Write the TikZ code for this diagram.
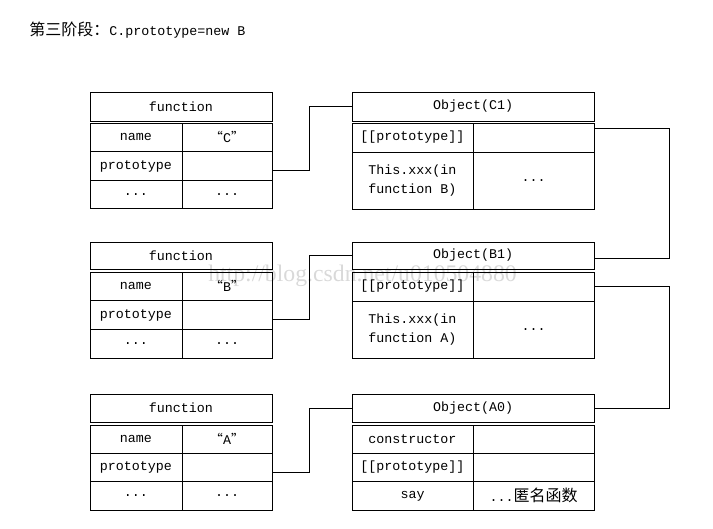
\documentclass[tikz,border=0pt]{standalone}
\usepackage{fontspec}
\setmonofont{Liberation Mono}
\newfontfamily\cjk{Noto Sans CJK SC}
\newfontfamily\wmfont{Liberation Serif}
\newcommand\qq[1]{\makebox[7.5pt][r]{\cjk “}#1\makebox[7.5pt][l]{\cjk ”}}
\begin{document}
\begin{tikzpicture}[x=0.75pt,y=-0.75pt,
  box/.style={draw, line width=0.75pt, inner sep=0pt, outer sep=0pt, anchor=north west,
    font=\fontsize{10}{14.25}\ttfamily, align=center},
  fhead/.style={box, minimum width=136.5pt},
  fl/.style={box, minimum width=69pt},
  fr/.style={box, minimum width=67.5pt},
  ohead/.style={box, minimum width=181.5pt},
  ocell/.style={box, minimum width=90.75pt},
  conn/.style={draw, line width=0.75pt}
]
\useasboundingbox (0,0) rectangle (713,528);

% title
\node[anchor=west, inner sep=0pt] (title) at (29,30)
  {{\fontsize{12}{14}\cjk 第三阶段：}{\fontsize{10}{12}\ttfamily C.prototype=new B}};

% watermark
\node[anchor=base west, inner sep=0pt, text=black!15, font=\fontsize{17.8}{20}\wmfont] (wm) at (208,281)
  {http://blog.csdn.net/u010504880};

% ---------- group C ----------
\node[fhead, minimum height=21.75pt] (fC) at (90,92) {function};
\node[fl, minimum height=21.5pt] (nameC) at (90,123) {name};
\node[fr, minimum height=21.5pt] (nameCv) at (182,123) {\qq{C}};
\node[fl, minimum height=21.5pt] (protoC) at (90,151.67) {prototype};
\node[fr, minimum height=21.5pt] (protoCv) at (182,151.67) {};
\node[fl, minimum height=21.5pt] (dotsC) at (90,180.33) {...};
\node[fr, minimum height=21.5pt] (dotsCv) at (182,180.33) {...};

\node[ohead, minimum height=21.75pt] (objC) at (352,92) {Object(C1)};
\node[ocell, minimum height=21.75pt] (c1p) at (352,123) {[[prototype]]};
\node[ocell, minimum height=21.75pt] (c1pv) at (473,123) {};
\node[ocell, minimum height=42.75pt, align=left] (c1t) at (352,152) {This.xxx(in\\function B)};
\node[ocell, minimum height=42.75pt] (c1tv) at (473,152) {...};

% ---------- group B ----------
\node[fhead, minimum height=20.25pt] (fB) at (90,242) {function};
\node[fl, minimum height=21.5pt] (nameB) at (90,272) {name};
\node[fr, minimum height=21.5pt] (nameBv) at (182,272) {\qq{B}};
\node[fl, minimum height=21.5pt] (protoB) at (90,300.67) {prototype};
\node[fr, minimum height=21.5pt] (protoBv) at (182,300.67) {};
\node[fl, minimum height=21.5pt] (dotsB) at (90,329.33) {...};
\node[fr, minimum height=21.5pt] (dotsBv) at (182,329.33) {...};

\node[ohead, minimum height=20.25pt] (objB) at (352,242) {Object(B1)};
\node[ocell, minimum height=21.75pt] (b1p) at (352,272) {[[prototype]]};
\node[ocell, minimum height=21.75pt] (b1pv) at (473,272) {};
\node[ocell, minimum height=42.75pt, align=left] (b1t) at (352,301) {This.xxx(in\\function A)};
\node[ocell, minimum height=42.75pt] (b1tv) at (473,301) {...};

% ---------- group A ----------
\node[fhead, minimum height=21pt] (fA) at (90,394) {function};
\node[fl, minimum height=21.25pt] (nameA) at (90,425) {name};
\node[fr, minimum height=21.25pt] (nameAv) at (182,425) {\qq{A}};
\node[fl, minimum height=21.25pt] (protoA) at (90,453.33) {prototype};
\node[fr, minimum height=21.25pt] (protoAv) at (182,453.33) {};
\node[fl, minimum height=21.25pt] (dotsA) at (90,481.67) {...};
\node[fr, minimum height=21.25pt] (dotsAv) at (182,481.67) {...};

\node[ohead, minimum height=21pt] (objA) at (352,394) {Object(A0)};
\node[ocell, minimum height=21.25pt] (a0c) at (352,425) {constructor};
\node[ocell, minimum height=21.25pt] (a0cv) at (473,425) {};
\node[ocell, minimum height=21.25pt] (a0p) at (352,453.33) {[[prototype]]};
\node[ocell, minimum height=21.25pt] (a0pv) at (473,453.33) {};
\node[ocell, minimum height=21.25pt] (a0s) at (352,481.67) {say};
\node[ocell, minimum height=21.25pt] (a0sv) at (473,481.67) {...{\fontsize{12}{14}\cjk 匿名函数}};

% ---------- connectors ----------
\draw[conn] ([yshift=-3.4pt]protoCv.east) -- ++(37,0) |- (objC.west);
\draw[conn] ([yshift=-3.4pt]protoBv.east) -- ++(37,0) |- (objB.west);
\draw[conn] ([yshift=-3.4pt]protoAv.east) -- ++(37,0) |- (objA.west);
\draw[conn] ([yshift=7pt]c1pv.east) -- ++(75,0) |- ([yshift=-1.9pt]objB.east);
\draw[conn] (b1pv.east) -- ++(75,0) |- (objA.east);
\end{tikzpicture}
\end{document}
